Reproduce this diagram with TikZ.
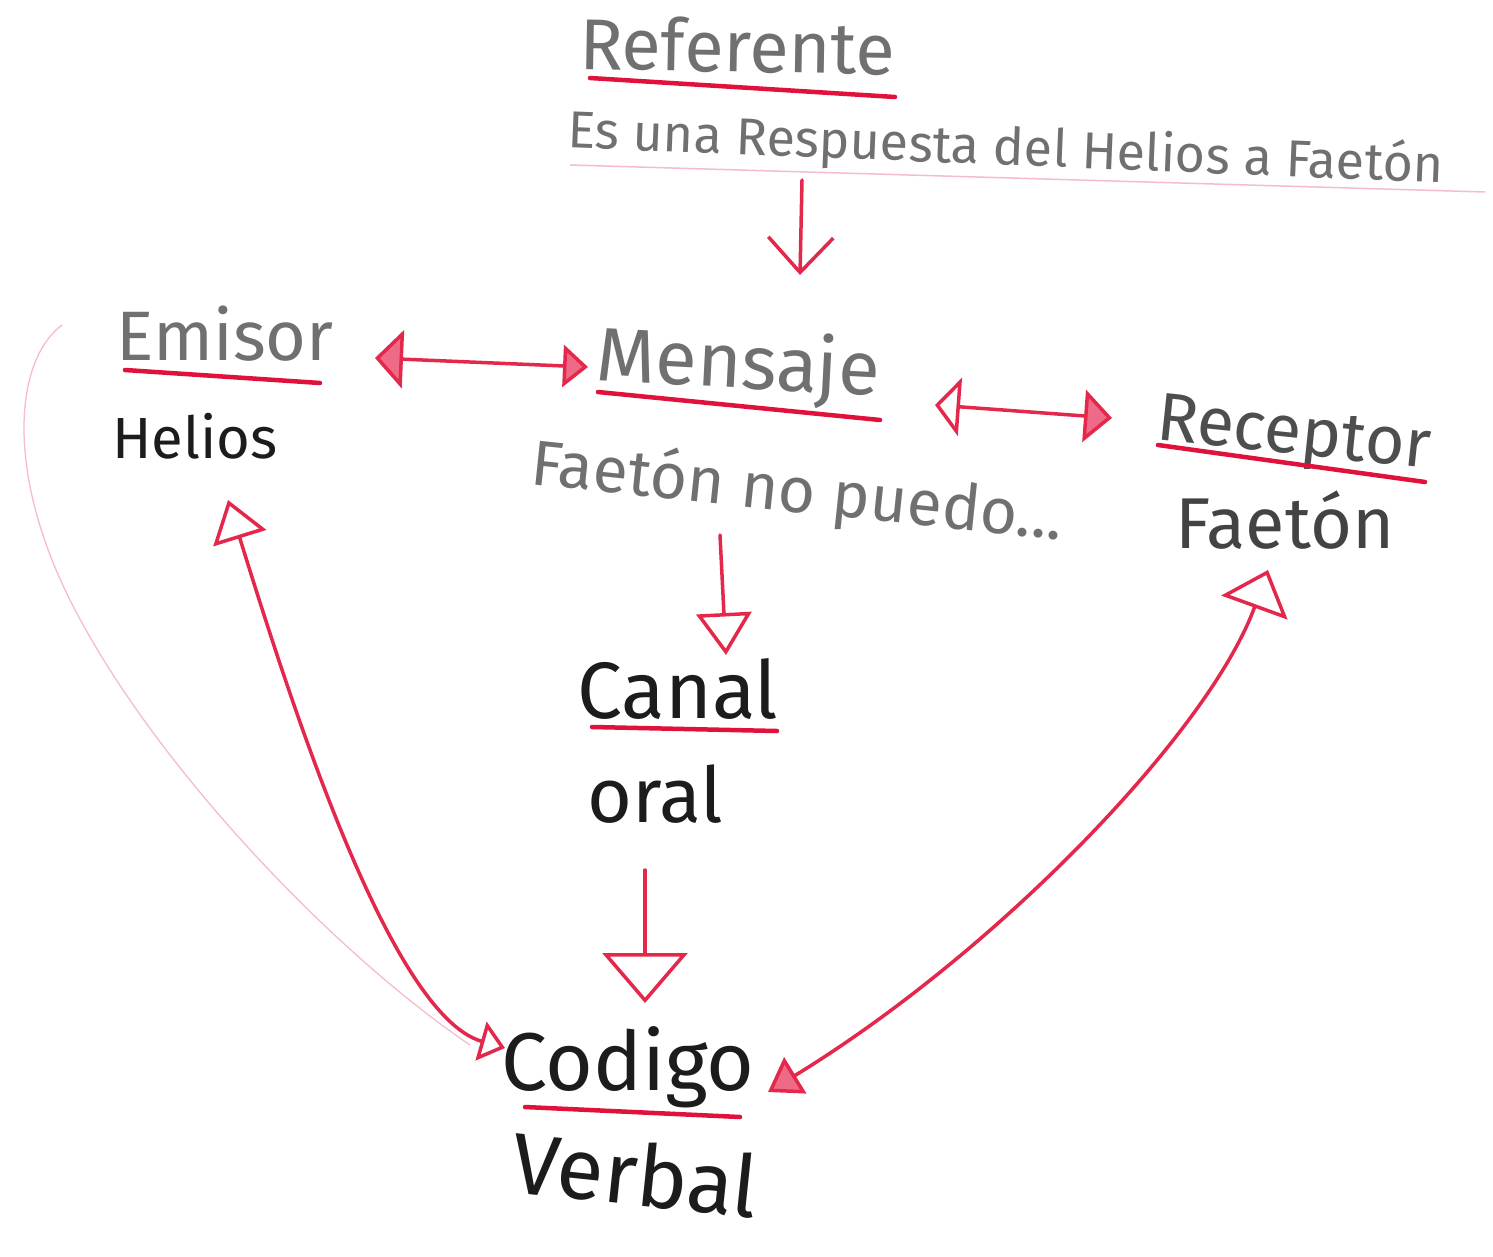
\documentclass[tikz,border=0pt]{standalone}
\usepackage{fontspec}
\setmainfont{Fira Sans}
\usetikzlibrary{arrows.meta}
\definecolor{pencil}{HTML}{707070}
\definecolor{ink}{HTML}{1C1C1C}
\definecolor{uline}{HTML}{E0123C}
\definecolor{arw}{HTML}{E3284C}
\definecolor{arwlight}{HTML}{EE6A86}
\definecolor{faint}{HTML}{F7BCCB}
\begin{document}
\begin{tikzpicture}[x=1pt,y=-1pt,
  lbl/.style={inner sep=0pt, anchor=base},
  uln/.style={uline, line width=4.5pt, line cap=round},
  conn/.style={arw, line width=3.5pt, line cap=round},
  fs/.style={font=\fontsize{#1}{#1}\selectfont}]
\useasboundingbox (0,0) rectangle (1493,1257);
\fill[white] (0,0) rectangle (1493,1257);

% labels
\node[lbl, fs=72, text=pencil, rotate=-1] (referente) at (737,72) {Referente};
\node[lbl, fs=52, text=pencil, rotate=-2.3] (referenteTxt) at (1005,165) {Es una Respuesta del Helios a Faetón};
\node[lbl, fs=70, text=pencil] (emisor) at (225,360) {Emisor};
\node[lbl, fs=58, text=ink] (helios) at (195,458) {Helios};
\node[lbl, fs=76, text=pencil, rotate=-3] (mensaje) at (737,388) {Mensaje};
\node[lbl, fs=64, text=pencil, rotate=-6] (mensajeTxt) at (795,512) {Faetón no puedo...};
\node[lbl, fs=68, text=pencil!70!black, rotate=-6] (receptor) at (1292,454) {Receptor};
\node[lbl, fs=72, text=pencil!60!black] (faeton) at (1285,548) {Faetón};
\node[lbl, fs=80, text=ink] (canal) at (678,718) {Canal};
\node[lbl, fs=77, text=ink] (oral) at (655,822) {oral};
\node[lbl, fs=82, text=ink] (codigo) at (628,1090) {Codigo};
\node[lbl, fs=86, text=ink, rotate=-6] (verbal) at (632,1205) {Verbal};

% underlines
\draw[uln] (590,78) -- (895,97);
\draw[faint, line width=1.5pt] (570,165) -- (1485,192);
\draw[uln] (125,370) -- (320,383);
\draw[uln] (598,392) -- (880,420);
\draw[uln] (1158,445) -- (1425,482);
\draw[uln] (592,727) -- (777,731);
\draw[uln] (525,1107) -- (740,1117);

% connector end points
\coordinate (refA) at (802,180);
\coordinate (refB) at (800,275);
\coordinate (emR) at (375,358);
\coordinate (meL) at (588,367);
\coordinate (meR) at (935,405);
\coordinate (reL) at (1112,418);
\coordinate (meB) at (720,535);
\coordinate (caT) at (726,655);
\coordinate (caB) at (645,870);
\coordinate (coT) at (645,1003);
\coordinate (emB) at (228,500);
\coordinate (coL) at (505,1048);
\coordinate (reB) at (1268,570);
\coordinate (coR) at (768,1092);

% connectors
\draw[conn, -{Straight Barb[length=35pt,width=65pt]}] (refA) -- (refB);
\draw[conn, {Triangle[length=28pt,width=58pt,fill=arwlight]}-{Triangle[length=25pt,width=42pt,fill=arwlight]}] (emR) -- (meL);
\draw[conn, {Triangle[open,length=25pt,width=58pt]}-{Triangle[length=28pt,width=52pt,fill=arwlight]}] (meR) -- (reL);
\draw[conn, -{Triangle[open,length=42pt,width=55pt]}] (meB) -- (caT);
\draw[conn, -{Triangle[open,length=50pt,width=85pt]}] (caB) -- (coT);
\draw[conn, {Triangle[open,length=40pt,width=55pt]}-{Triangle[open,length=25pt,width=40pt]}] (emB) .. controls (290,700) and (390,1015) .. (coL);
\draw[conn, {Triangle[open,length=40pt,width=70pt]}-{Triangle[length=32pt,width=42pt,fill=arwlight]}] (reB) .. controls (1210,730) and (1000,950) .. (coR);

% faint pencil curve
\draw[faint, line width=1.3pt] (62,325) .. controls (15,360) and (5,470) .. (70,600) .. controls (150,760) and (330,950) .. (470,1045);
\end{tikzpicture}
\end{document}
